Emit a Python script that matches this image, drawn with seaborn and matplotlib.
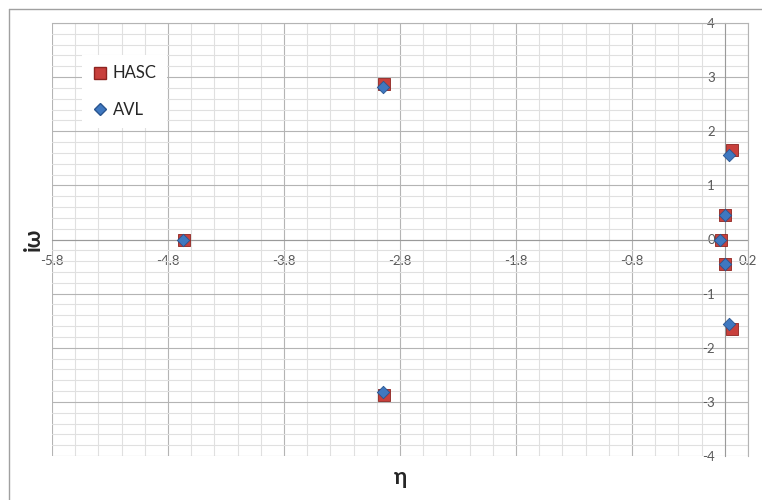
import pandas as pd
import seaborn as sns
import matplotlib.pyplot as plt
from matplotlib.ticker import FixedLocator, MultipleLocator
from matplotlib.lines import Line2D

# eigenvalues
hasc_eta = [-4.66, -2.94, -2.94, 0.06, 0.0, -0.03, 0.0, 0.06]
hasc_omega = [0.0, 2.87, -2.87, 1.66, 0.45, 0.0, -0.45, -1.65]
avl_eta = [-4.67, -2.95, -2.95, 0.04, 0.0, -0.04, 0.0, 0.04]
avl_omega = [0.0, 2.81, -2.81, 1.57, 0.45, 0.0, -0.45, -1.57]

x_ticks = [-5.8, -4.8, -3.8, -2.8, -1.8, -0.8, 0.2]
x_labels = ["-5.8", "-4.8", "-3.8", "-2.8", "-1.8", "-0.8", "0.2"]
y_ticks = [-4, -3, -2, -1, 0, 1, 2, 3, 4]

df = pd.concat([
    pd.DataFrame({"eta": hasc_eta, "omega": hasc_omega, "method": "HASC"}),
    pd.DataFrame({"eta": avl_eta, "omega": avl_omega, "method": "AVL"}),
])

sns.set_style("white")
plt.rcParams["font.family"] = ["Lato", "DejaVu Sans"]
plt.rcParams["axes.unicode_minus"] = False

fig = plt.figure(figsize=(7.62, 5.0), dpi=100)
ax = fig.add_axes([52 / 762, 44 / 500, 696 / 762, 433 / 500])

red = "#c8403c"
blue = "#3f78c0"
hasc = df[df["method"] == "HASC"]
avl = df[df["method"] == "AVL"]
sns.scatterplot(data=hasc, x="eta", y="omega", marker="s", s=80, color=red,
                edgecolor="#8e2420", linewidth=0.6, ax=ax, zorder=4, legend=False)
sns.scatterplot(data=avl, x="eta", y="omega", marker="D", s=40, color=blue,
                edgecolor="#2a5590", linewidth=0.6, ax=ax, zorder=5, legend=False)

ax.set_xlim(-5.8, 0.2)
ax.set_ylim(-4, 4)
ax.xaxis.set_major_locator(FixedLocator(x_ticks))
ax.set_xticks(x_ticks, x_labels)
ax.xaxis.set_minor_locator(MultipleLocator(0.2))
ax.set_yticks(y_ticks, [str(v) for v in y_ticks])
ax.yaxis.set_minor_locator(MultipleLocator(0.2))

ax.grid(which="major", color="#b4b4b4", linewidth=0.8)
ax.grid(which="minor", color="#e0e0e0", linewidth=0.8)
ax.set_axisbelow(True)

for side in ["top", "right"]:
    ax.spines[side].set_visible(True)
    ax.spines[side].set_color("#b4b4b4")
    ax.spines[side].set_linewidth(0.8)
ax.spines["left"].set_position(("data", 0))
ax.spines["bottom"].set_position(("data", 0))
for side in ["left", "bottom"]:
    ax.spines[side].set_color("#9a9a9a")
    ax.spines[side].set_linewidth(0.8)
    ax.spines[side].set_zorder(1)

ax.tick_params(axis="both", which="both", length=0, labelsize=9.5, labelcolor="#595959")
ax.tick_params(axis="x", pad=11)
ax.tick_params(axis="y", pad=7)

ax.set_xlabel("η", fontsize=16, fontweight="bold")
ax.xaxis.set_label_coords(0.5, -0.025)
ax.set_ylabel("iω", fontsize=16, fontweight="bold")
ax.yaxis.set_label_coords(-0.012, 0.5)

handles = [
    Line2D([], [], marker="s", linestyle="", markersize=9, color=red, markeredgecolor="#8e2420"),
    Line2D([], [], marker="D", linestyle="", markersize=6.5, color=blue, markeredgecolor="#2a5590"),
]
leg = ax.legend(handles, ["HASC", "AVL"], loc="upper left", bbox_to_anchor=(0.043, 0.925),
                fontsize=12, frameon=True, facecolor="white", edgecolor="none",
                framealpha=1, fancybox=False, labelspacing=1.25, handletextpad=0.25,
                handlelength=1.0, borderpad=0.6, borderaxespad=0)
leg.set_zorder(6)

# outer chart border
fig.add_artist(Line2D([9 / 762, 1], [1 - 9 / 500, 1 - 9 / 500], color="#a0a0a0", linewidth=1))
fig.add_artist(Line2D([9 / 762, 9 / 762], [0, 1 - 9 / 500], color="#a0a0a0", linewidth=1))

plt.savefig("out.png", dpi=100)
